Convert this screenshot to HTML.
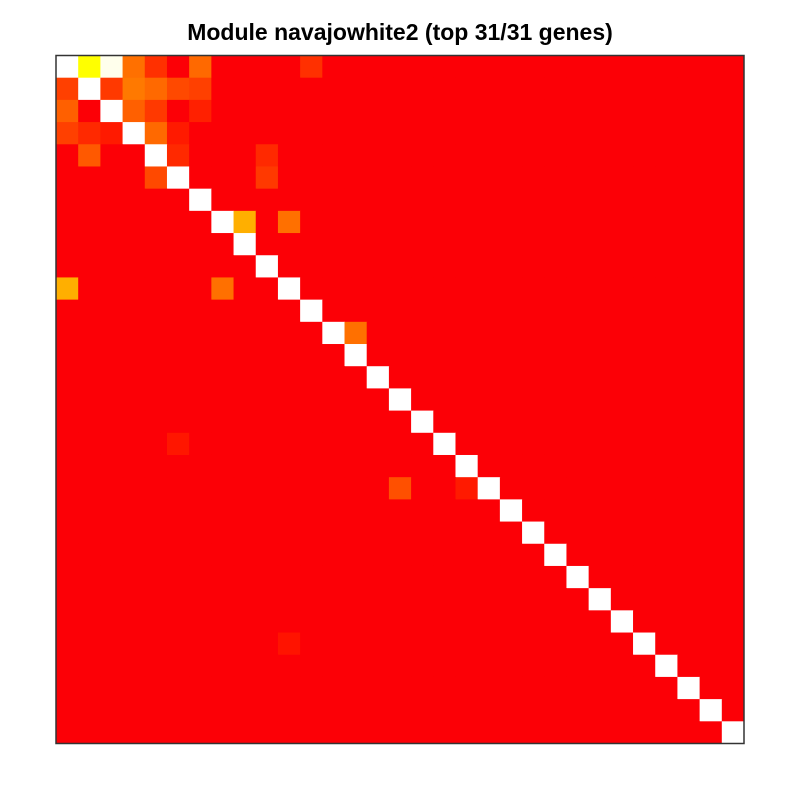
<!DOCTYPE html>
<html><head><meta charset="utf-8"><style>
body{margin:0;background:#fff;width:800px;height:800px;overflow:hidden}
svg{display:block}
</style></head><body>
<svg id="chart" width="800" height="800">
<text x="400" y="40" text-anchor="middle" font-family="Liberation Sans, sans-serif" font-weight="bold" font-size="23">Module navajowhite2 (top 31/31 genes)</text>
<g id="cells"></g>
<rect x="56" y="55.5" width="688" height="688" fill="none" stroke="#333" stroke-width="1.5"/>
</svg>
<script>
const nGenes = 31;
const hiRows = [0,0,0,0,0,0,1,1,1,1,1,1,2,2,2,2,3,3,3,3,3,4,4,4,5,5,7,7,10,10,12,17,19,19,26];
const hiCols = [1,2,3,4,6,11,0,2,3,4,5,6,0,3,4,6,0,1,2,4,5,1,5,9,4,9,8,10,0,7,13,5,15,18,10];
const hiVals = [0.8,0.985,0.35,0.15,0.33,0.15,0.2,0.18,0.38,0.33,0.23,0.2,0.3,0.3,0.18,0.1,0.2,0.13,0.08,0.33,0.08,0.28,0.13,0.13,0.23,0.18,0.55,0.35,0.55,0.35,0.35,0.07,0.25,0.08,0.06];

const x0 = 56, y0 = 55.5, size = 688, cell = size / nGenes;
const xPos = i => x0 + i * cell;
const yPos = i => y0 + i * cell;
function color(v){
  if (v <= 0) return 'rgb(252,0,6)';
  const g = Math.min(255, Math.round(v * 255 * 1.25));
  const b = Math.max(0, Math.round((v - 0.8) * 5 * 255));
  return `rgb(255,${g},${b})`;
}
const vals = [];
for (let r = 0; r < nGenes; r++) { vals.push(new Array(nGenes).fill(0)); vals[r][r] = 1; }
hiRows.forEach((r, k) => { vals[r][hiCols[k]] = hiVals[k]; });
const g = document.getElementById('cells');
const NS = 'http://www.w3.org/2000/svg';
for (let r = 0; r < nGenes; r++) for (let c = 0; c < nGenes; c++) {
  const el = document.createElementNS(NS, 'rect');
  el.setAttribute('x', xPos(c)); el.setAttribute('y', yPos(r));
  el.setAttribute('width', cell + 0.5); el.setAttribute('height', cell + 0.5);
  el.setAttribute('fill', r === c ? '#ffffff' : color(vals[r][c]));
  
  
  g.appendChild(el);
}
</script>
</body></html>
